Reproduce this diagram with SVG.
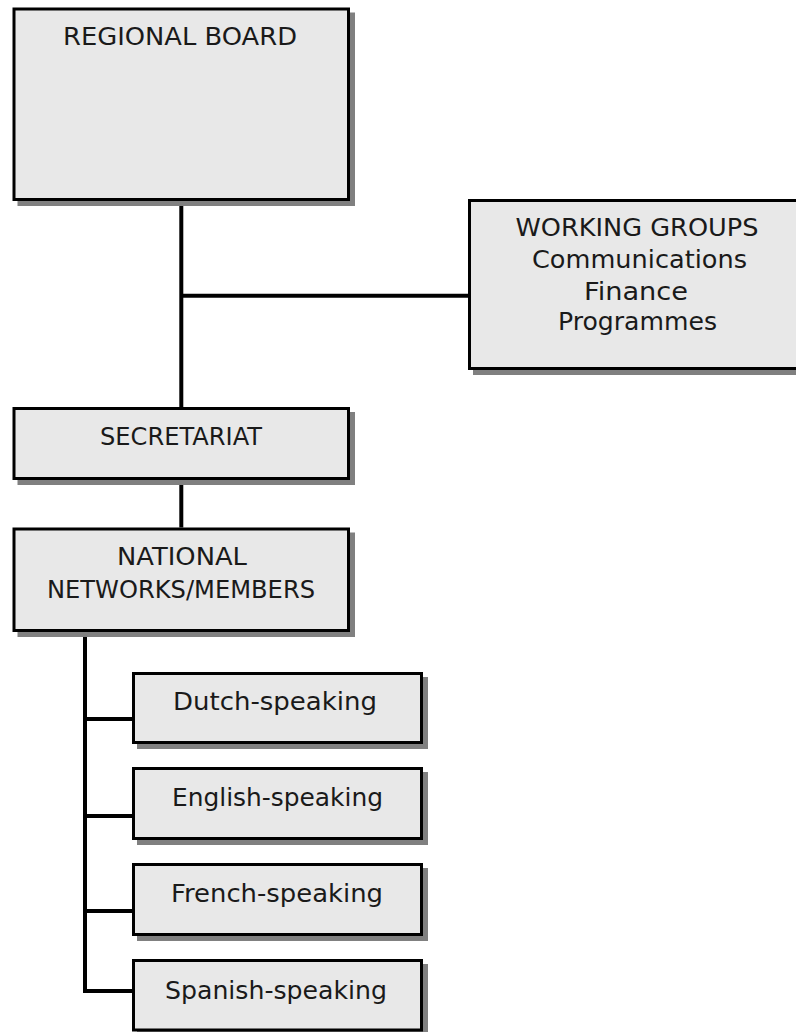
<svg xmlns="http://www.w3.org/2000/svg" width="796" height="1032" viewBox="0 0 796 1032">
<style>
.box{fill:#e8e8e8;stroke:#000;stroke-width:3}
.sh{fill:#808080}
.t{font-family:"DejaVu Sans","Liberation Sans",sans-serif;font-size:25.5px;fill:#1a1a1a;text-anchor:middle}
.c{fill:none;stroke:#000;stroke-width:4;stroke-linejoin:miter;stroke-linecap:butt}
</style>
<rect width="796" height="1032" fill="#fff"/>
<g id="connectors">
<path class="c" d="M181.3 201V407"/>
<path class="c" d="M181.3 295.7H468"/>
<path class="c" d="M181.3 480V527.5"/>
<path class="c" d="M85 632V991H132"/>
<path class="c" d="M85 719H132"/>
<path class="c" d="M85 816H132"/>
<path class="c" d="M85 911H132"/>
</g>
<g id="regional-board">
<rect class="sh" x="17.5" y="12.5" width="337.5" height="193.5"/>
<rect class="box" x="14" y="9" width="334.5" height="190.5"/>
<text class="t" x="180" y="45" textLength="234" lengthAdjust="spacingAndGlyphs">REGIONAL BOARD</text>
</g>
<g id="working-groups">
<rect class="sh" x="473" y="204" width="340" height="171"/>
<rect class="box" x="469.5" y="200.5" width="340" height="168"/>
<text class="t" x="637" y="236" textLength="243" lengthAdjust="spacingAndGlyphs">WORKING GROUPS</text>
<text class="t" x="639.5" y="268" textLength="215" lengthAdjust="spacingAndGlyphs">Communications</text>
<text class="t" x="636" y="299.5" textLength="104" lengthAdjust="spacingAndGlyphs">Finance</text>
<text class="t" x="637.5" y="330" textLength="159" lengthAdjust="spacingAndGlyphs">Programmes</text>
</g>
<g id="secretariat">
<rect class="sh" x="17.5" y="412" width="337.5" height="73"/>
<rect class="box" x="14" y="408.5" width="334.5" height="70"/>
<text class="t" x="181" y="445" textLength="162" lengthAdjust="spacingAndGlyphs">SECRETARIAT</text>
</g>
<g id="national-networks">
<rect class="sh" x="17.5" y="532.5" width="337.5" height="104.5"/>
<rect class="box" x="14" y="529" width="334.5" height="101.5"/>
<text class="t" x="182" y="565" textLength="130" lengthAdjust="spacingAndGlyphs">NATIONAL</text>
<text class="t" x="181" y="598" textLength="268" lengthAdjust="spacingAndGlyphs">NETWORKS/MEMBERS</text>
</g>
<g id="dutch">
<rect class="sh" x="137" y="677" width="291" height="72"/>
<rect class="box" x="133.5" y="673.5" width="288" height="69"/>
<text class="t" x="275" y="710" textLength="204" lengthAdjust="spacingAndGlyphs">Dutch-speaking</text>
</g>
<g id="english">
<rect class="sh" x="137" y="772" width="291" height="73"/>
<rect class="box" x="133.5" y="768.5" width="288" height="70"/>
<text class="t" x="277.5" y="806" textLength="211" lengthAdjust="spacingAndGlyphs">English-speaking</text>
</g>
<g id="french">
<rect class="sh" x="137" y="868" width="291" height="73"/>
<rect class="box" x="133.5" y="864.5" width="288" height="70"/>
<text class="t" x="277" y="902" textLength="212" lengthAdjust="spacingAndGlyphs">French-speaking</text>
</g>
<g id="spanish">
<rect class="sh" x="137" y="964" width="291" height="72"/>
<rect class="box" x="133.5" y="960.5" width="288" height="69.5"/>
<text class="t" x="276" y="999" textLength="222" lengthAdjust="spacingAndGlyphs">Spanish-speaking</text>
</g>
</svg>
